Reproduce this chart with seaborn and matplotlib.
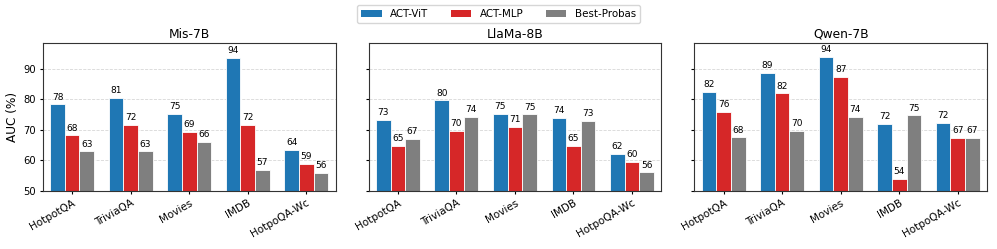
import matplotlib
matplotlib.use("Agg")
import matplotlib.pyplot as plt
import seaborn as sns
import pandas as pd
from matplotlib.patches import Patch

datasets = ["HotpotQA", "TriviaQA", "Movies", "IMDB", "HotpoQA-Wc"]
methods = ["ACT-ViT", "ACT-MLP", "Best-Probas"]
models = ["Mis-7B", "LlaMa-8B", "Qwen-7B"]

mis_vit = [78.4, 80.6, 75.3, 93.7, 63.6]
mis_mlp = [68.2, 71.6, 69.4, 71.6, 59.0]
mis_best = [63.0, 63.0, 66.0, 57.0, 56.0]

llama_vit = [73.4, 79.7, 75.3, 73.9, 62.2]
llama_mlp = [64.9, 69.6, 71.0, 64.9, 59.6]
llama_best = [67.2, 74.2, 75.1, 73.1, 56.1]

qwen_vit = [82.4, 88.8, 93.9, 72.1, 72.4]
qwen_mlp = [75.9, 82.0, 87.3, 54.0, 67.4]
qwen_best = [67.6, 69.8, 74.3, 74.8, 67.4]

series = {
    "Mis-7B": [mis_vit, mis_mlp, mis_best],
    "LlaMa-8B": [llama_vit, llama_mlp, llama_best],
    "Qwen-7B": [qwen_vit, qwen_mlp, qwen_best],
}

palette = {"ACT-ViT": "#1f77b4", "ACT-MLP": "#d62728", "Best-Probas": "#7f7f7f"}

fig, axes = plt.subplots(1, 3, sharey=True, figsize=(9.97, 2.49), dpi=100)
fig.subplots_adjust(left=0.043, right=0.99, top=0.827, bottom=0.233, wspace=0.113)

for ax, model in zip(axes, models):
    rows = []
    for m, vals in zip(methods, series[model]):
        for d, v in zip(datasets, vals):
            rows.append({"dataset": d, "method": m, "auc": v})
    df = pd.DataFrame(rows)
    sns.barplot(data=df, x="dataset", y="auc", hue="method", order=datasets,
                hue_order=methods, palette=palette, width=0.75, ax=ax,
                edgecolor="white", linewidth=0.6, saturation=1, legend=False,
                errorbar=None)
    for cont in ax.containers:
        ax.bar_label(cont, fmt="%.0f", padding=2, fontsize=6.5)
    ax.set_title(model, fontsize=8.8, pad=4)
    ax.set_xlabel("")
    ax.set_ylabel("")
    ax.set_ylim(50, 98.5)
    ax.set_yticks([50, 60, 70, 80, 90])
    ax.grid(axis="y", linestyle="--", alpha=0.5, linewidth=0.6)
    ax.set_axisbelow(True)
    ax.tick_params(axis="x", labelsize=7.5, length=2.5, pad=2.5)
    ax.tick_params(axis="y", labelsize=7.2, length=2.5, pad=2.5)
    for lbl in ax.get_xticklabels():
        lbl.set_rotation(30)
        lbl.set_ha("right")
        lbl.set_rotation_mode("anchor")
    for s in ax.spines.values():
        s.set_color("#333333")

axes[0].set_ylabel("AUC (%)", fontsize=8.7, labelpad=3)

handles = [Patch(facecolor=palette[m], label=m) for m in methods]
fig.legend(handles=handles, loc="upper center", ncol=3, fontsize=7.4,
           bbox_to_anchor=(0.5, 1.0), frameon=True, columnspacing=2.2)

fig.savefig("out.png", dpi=100)
